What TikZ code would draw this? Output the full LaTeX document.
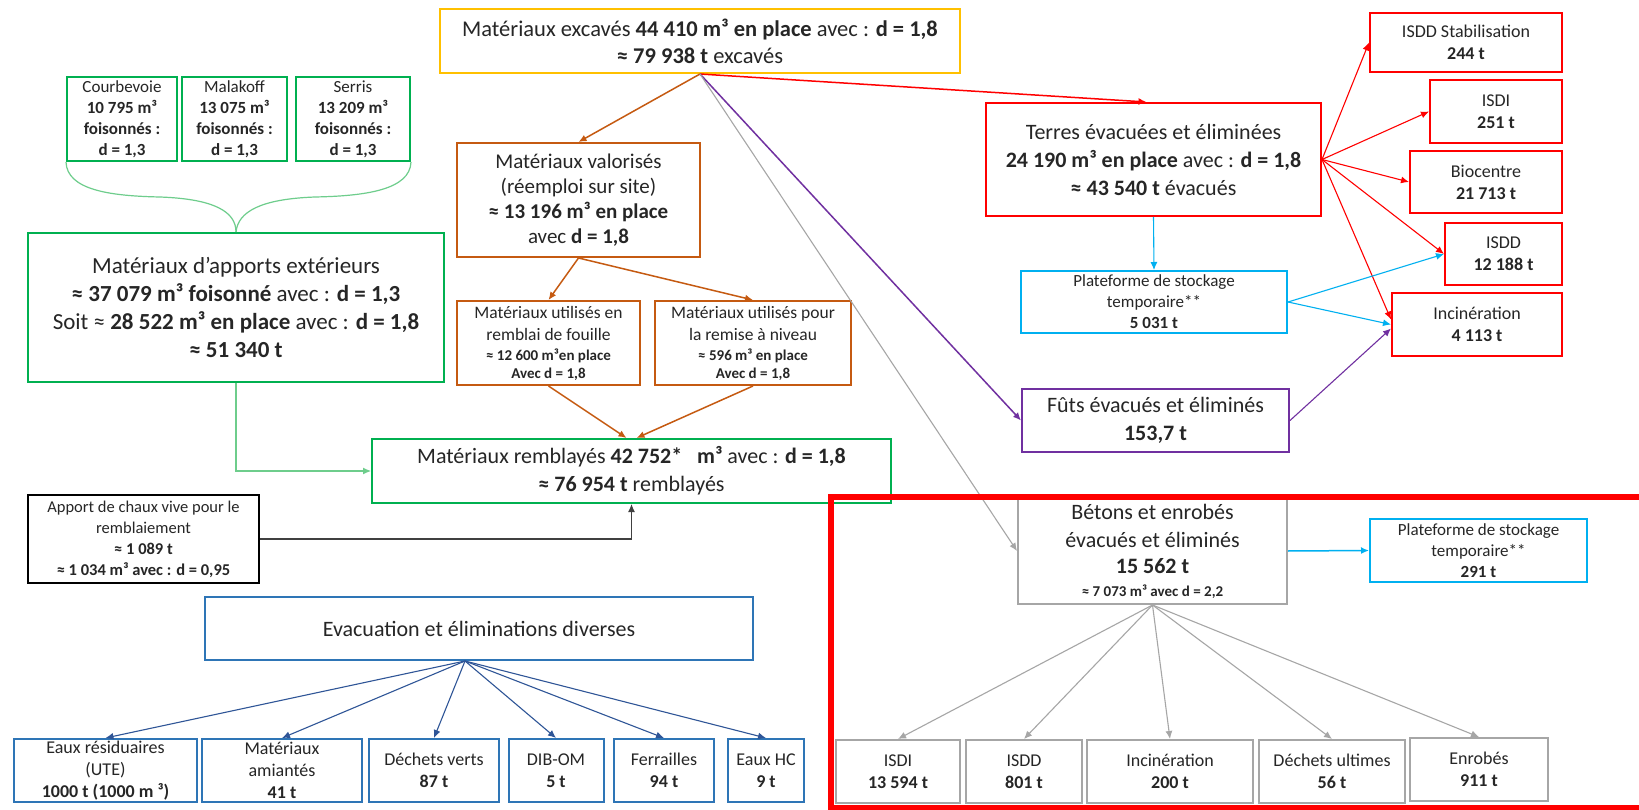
\documentclass[tikz,border=0pt]{standalone}
\usepackage{fontspec}
\setmainfont{Carlito}
\usetikzlibrary{arrows.meta,calc}
\definecolor{cyel}{RGB}{255,192,0}
\definecolor{cgreen}{RGB}{0,176,80}
\definecolor{clgreen}{RGB}{110,205,140}
\definecolor{corange}{RGB}{197,90,17}
\definecolor{cred}{RGB}{255,0,0}
\definecolor{cpurple}{RGB}{112,48,160}
\definecolor{ccyan}{RGB}{0,176,240}
\definecolor{cgrey}{RGB}{166,166,166}
\definecolor{cblue}{RGB}{46,117,182}
\definecolor{cdblue}{RGB}{47,85,151}
\definecolor{ctxt}{RGB}{38,38,38}
\definecolor{cdark}{RGB}{64,64,64}
\newcommand\FBig{\fontsize{22}{27}\selectfont}
\newcommand\FMid{\fontsize{18}{22}\selectfont}
\newcommand\FSma{\fontsize{17}{21}\selectfont}
\newcommand\FSm{\fontsize{15}{18}\selectfont}
\begin{document}
\begin{tikzpicture}[x=1pt,y=-1pt,
  box/.style={draw, line width=2pt, inner sep=0pt, align=center, text=ctxt, font=\FBig},
  sbox/.style={box, font=\FMid},
  wh/.style 2 args={minimum width=#1, minimum height=#2},
  conn/.style={line width=1.5pt, -{Latex[length=8pt,width=7pt]}},
  thinconn/.style={line width=1.1pt, -{Latex[length=8pt,width=7pt]}}]
\fill[white] (0,0) rectangle (1639,810);
\useasboundingbox (0,0) rectangle (1639,810);

% ---- top
\node[box, draw=cyel, wh={520}{64}, font=\fontsize{22.5}{27}\selectfont] (top) at (700,41) {Matériaux excavés \textbf{44 410 m³ en place} avec : \textbf{d = 1,8}\\ \textbf{≈ 79 938 t} excavés};

% ---- external sites
\node[sbox, font=\FSma, draw=cgreen, wh={110}{84}] (courb) at (122,119) {Courbevoie\\ \textbf{10 795 m³}\\ \textbf{foisonnés :}\\ \textbf{d = 1,3}};
\node[sbox, font=\FSma, draw=cgreen, wh={105}{84}] (malak) at (234.5,119) {Malakoff\\ \textbf{13 075 m³}\\ \textbf{foisonnés :}\\ \textbf{d = 1,3}};
\node[sbox, font=\FSma, draw=cgreen, wh={114}{84}] (serris) at (353,119) {Serris\\ \textbf{13 209 m³}\\ \textbf{foisonnés :}\\ \textbf{d = 1,3}};
\node[box, draw=cgreen, wh={416}{149}, font=\fontsize{23}{28}\selectfont] (apports) at (236,307.5) {Matériaux d’apports extérieurs\\ \textbf{≈ 37 079 m³ foisonné} avec : \textbf{d = 1,3}\\ Soit ≈ \textbf{28 522 m³ en place} avec : \textbf{d = 1,8}\\ \textbf{≈ 51 340 t}};

% ---- valorised
\node[box, draw=corange, wh={243}{114}, font=\fontsize{21}{25}\selectfont] (valor) at (578.5,200) {Matériaux valorisés\\ (réemploi sur site)\\ \textbf{≈ 13 196 m³ en place}\\ avec \textbf{d = 1,8}};
\node[sbox, draw=corange, wh={183}{84}, font=\fontsize{17.5}{22}\selectfont] (util1) at (548.5,343) {Matériaux utilisés en\\ remblai de fouille\\[-2pt] {\FSm\bfseries ≈ 12 600 m³en place}\\[-4pt] {\FSm\bfseries Avec d = 1,8}};
\node[sbox, draw=corange, wh={196}{84}, font=\fontsize{17.5}{22}\selectfont] (util2) at (753,343) {Matériaux utilisés pour\\ la remise à niveau\\[-2pt] {\FSm\bfseries ≈ 596 m³ en place}\\[-4pt] {\FSm\bfseries Avec d = 1,8}};

% ---- backfill
\node[box, draw=cgreen, wh={519}{64}, font=\fontsize{22}{28}\selectfont] (rembl) at (631.5,471) {Matériaux remblayés \textbf{42 752*}\ \ \ \textbf{m³} avec : \textbf{d = 1,8}\\ \textbf{≈ 76 954 t} remblayés};
\node[sbox, draw=black, line width=2.5pt, wh={231}{88}, font=\fontsize{16.5}{21}\selectfont] (chaux) at (143.5,539) {Apport de chaux vive pour le\\ remblaiement\\ \textbf{≈ 1 089 t}\\ \textbf{≈ 1 034 m³ avec : d = 0,95}};

% ---- various
\node[box, draw=cblue, wh={548}{63}] (evac) at (479,628.5) {Evacuation et éliminations diverses};
\node[sbox, draw=cblue, wh={183}{63}] (eaux) at (105.5,770.5) {Eaux résiduaires\\ (UTE)\\ \textbf{1000 t (1000 m ³)}};
\node[sbox, draw=cblue, wh={160}{63}] (amiant) at (282,770.5) {Matériaux\\ amiantés\\ \textbf{41 t}};
\node[sbox, draw=cblue, wh={130}{63}] (verts) at (434,770.5) {Déchets verts\\ \textbf{87 t}};
\node[sbox, draw=cblue, wh={95}{63}] (dib) at (556,770.5) {DIB-OM\\ \textbf{5 t}};
\node[sbox, draw=cblue, wh={100}{63}] (ferr) at (664,770.5) {Ferrailles\\ \textbf{94 t}};
\node[sbox, draw=cblue, wh={76}{63}] (hc) at (766,770.5) {Eaux HC\\ \textbf{9 t}};

% ---- right column
\node[box, draw=cred, wh={335}{113}, font=\fontsize{22}{28}\selectfont] (terres) at (1153.5,159.5) {Terres évacuées et éliminées\\ \textbf{24 190 m³ en place} avec : \textbf{d = 1,8}\\ \textbf{≈ 43 540 t} évacués};
\node[sbox, font=\FSma, draw=ccyan, wh={266}{62}] (plat1) at (1154,302) {Plateforme de stockage\\ temporaire**\\ \textbf{5 031 t}};
\node[box, draw=cpurple, wh={267}{63}, font=\fontsize{22}{28}\selectfont] (futs) at (1155.5,420.5) {Fûts évacués et éliminés\\ \textbf{153,7 t}};
\node[box, draw=cgrey, wh={269}{106}, font=\fontsize{22}{28}\selectfont] (betons) at (1152.5,551) {Bétons et enrobés\\ évacués et éliminés\\[-2pt] \textbf{15 562 t}\\[-5pt] {\FSm\bfseries ≈ 7 073 m³ avec d = 2,2}};
\node[sbox, font=\FSma, draw=ccyan, wh={217}{63}] (plat2) at (1478.5,550.5) {Plateforme de stockage\\ temporaire**\\ \textbf{291 t}};

\node[sbox, draw=cred, wh={192}{59}] (stab) at (1466,42.5) {ISDD Stabilisation\\ \textbf{244 t}};
\node[sbox, draw=cred, wh={132}{63}] (isdi) at (1496,111.5) {ISDI\\ \textbf{251 t}};
\node[sbox, draw=cred, wh={152}{62}] (bio) at (1486,182) {Biocentre\\ \textbf{21 713 t}};
\node[sbox, draw=cred, wh={117}{62}] (isdd) at (1503.5,254) {ISDD\\ \textbf{12 188 t}};
\node[sbox, draw=cred, wh={170}{63}] (incin) at (1477,324.5) {Incinération\\ \textbf{4 113 t}};

\node[sbox, draw=cgrey, wh={124}{63}] (isdi2) at (898,771.5) {ISDI\\ \textbf{13 594 t}};
\node[sbox, draw=cgrey, wh={116}{63}] (isdd2) at (1024,771.5) {ISDD\\ \textbf{801 t}};
\node[sbox, draw=cgrey, wh={166}{63}] (incin2) at (1170,771.5) {Incinération\\ \textbf{200 t}};
\node[sbox, draw=cgrey, wh={146}{63}] (dechu) at (1332,771.5) {Déchets ultimes\\ \textbf{56 t}};
\node[sbox, draw=cgrey, wh={138}{63}] (enrob) at (1479,769.5) {Enrobés\\ \textbf{911 t}};

% ---- connectors
\draw[clgreen, line width=1.2pt] (courb.south west) .. controls (67,190) and (110,196) .. (160,197) .. controls (215,199) and (236,212) .. (apports.north);
\draw[clgreen, line width=1.2pt] (serris.south east) .. controls (410,190) and (365,196) .. (315,197) .. controls (260,199) and (238,212) .. (apports.north);
\draw[thinconn, clgreen] (apports.south) |- (rembl.west);
\draw[thinconn, cdark] (chaux.east) -| (rembl.south);

\draw[conn, corange] (top.south) -- (valor.north);
\draw[conn, corange] (valor.south) -- (util1.north);
\draw[conn, corange] (valor.south) -- (util2.north);
\draw[conn, corange] (util1.south) -- ($(rembl.north)+(-5,0)$);
\draw[conn, corange] (util2.south) -- ($(rembl.north)+(5,0)$);

\draw[conn, cred] (top.south) -- ($(terres.north)+(-7,0)$);
\draw[conn, cpurple] (top.south) -- (futs.west);
\draw[thinconn, cgrey] (top.south) -- (betons.west);

\draw[thinconn, cred] (terres.east) -- (stab.west);
\draw[thinconn, cred] (terres.east) -- (isdi.west);
\draw[thinconn, cred] (terres.east) -- (bio.west);
\draw[thinconn, cred] (terres.east) -- (isdd.west);
\draw[thinconn, cred] (terres.east) -- ($(incin.west)+(0,-5)$);
\draw[thinconn, ccyan] (terres.south) -- (plat1.north);
\draw[thinconn, ccyan] (plat1.east) -- (isdd.west);
\draw[thinconn, ccyan] (plat1.east) -- (incin.west);
\draw[thinconn, cpurple] (futs.east) -- ($(incin.west)+(0,4)$);

\draw[conn, ccyan] (betons.east) -- (plat2.west);
\foreach \t in {isdi2,isdd2,incin2,dechu,enrob}
  \draw[thinconn, cgrey] (betons.south) -- (\t.north);
\foreach \t in {eaux,amiant,verts,dib,ferr,hc}
  \draw[thinconn, cdblue] ($(evac.south)+(-14,0)$) -- (\t.north);

% ---- highlight frame
\draw[cred, line width=6pt] (831,497) rectangle (1660,808);
\end{tikzpicture}
\end{document}
